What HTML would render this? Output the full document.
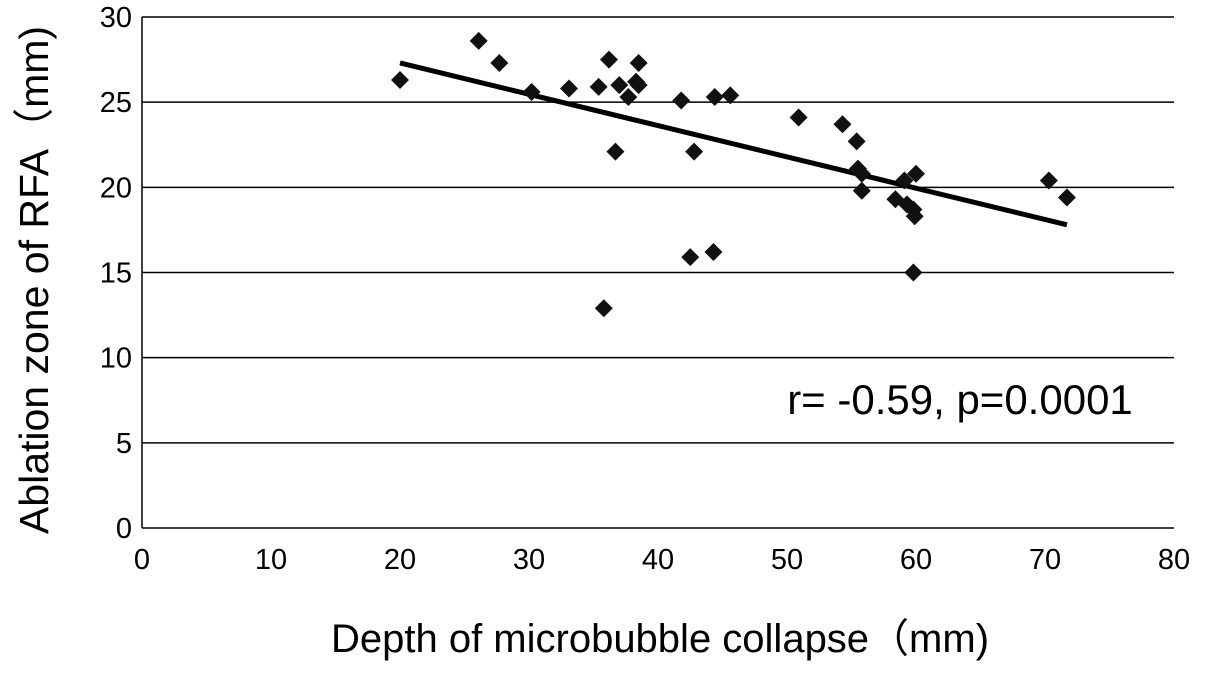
<!DOCTYPE html>
<html><head><meta charset="utf-8"><style>
html,body{margin:0;padding:0;background:#fff;}
svg{display:block;font-family:"Liberation Sans",Arial,sans-serif;}
</style></head><body>
<svg id="chart" width="1205" height="673">
<g id="grid"></g>
<g id="axes"></g>
<g id="ticks"></g>
<g id="trend"></g>
<g id="points"></g>
<text x="960" y="414" font-size="42" text-anchor="middle" fill="#000">r= -0.59, p=0.0001</text>
<text x="660" y="652" font-size="40" text-anchor="middle" fill="#000">Depth of microbubble collapse（mm)</text>
<text transform="translate(48,280) rotate(-90)" font-size="41" text-anchor="middle" fill="#000">Ablation zone of RFA（mm)</text>
</svg>
<script>
const xVals=[20.0,26.1,27.7,30.2,33.1,35.4,36.2,37.0,36.7,37.7,38.3,38.5,38.5,41.8,42.8,42.5,35.8,44.3,44.4,45.6,50.9,54.3,55.4,55.5,55.8,55.8,58.4,59.1,59.3,60.0,59.8,59.9,59.8,70.3,71.7];
const yVals=[26.3,28.6,27.3,25.6,25.8,25.9,27.5,26.0,22.1,25.3,26.2,27.3,26.0,25.1,22.1,15.9,12.9,16.2,25.3,25.4,24.1,23.7,22.7,21.1,20.8,19.8,19.3,20.4,19.0,20.8,18.7,18.3,15.0,20.4,19.4];
const trendX=[20,71.7];
const trendY=[27.3,17.8];
const xTicks=[0,10,20,30,40,50,60,70,80];
const yTicks=[0,5,10,15,20,25,30];
const X0=142,X1=1174,Y0=528,Y1=17;
const sx=v=>X0+(v-0)/80*(X1-X0);
const sy=v=>Y0-(v-0)/30*(Y0-Y1);
const NS="http://www.w3.org/2000/svg";
function mk(tag,parent,attrs){const e=document.createElementNS(NS,tag);for(const k in attrs)e.setAttribute(k,attrs[k]);document.getElementById(parent).appendChild(e);return e;}
yTicks.forEach(t=>{
 if(t>0){const l=mk('line','grid',{x1:X0,x2:X1,y1:sy(t),y2:sy(t),stroke:'#000','stroke-width':1.5});
 
 }
 const tx=mk('text','ticks',{x:X0-10,y:sy(t)+10,'font-size':29,'text-anchor':'end',fill:'#000'});tx.textContent=t;
 
 
});
xTicks.forEach(t=>{
 const tx=mk('text','ticks',{x:sx(t),y:Y0+41,'font-size':29,'text-anchor':'middle',fill:'#000'});tx.textContent=t;
 
 
});
const ya=mk('line','axes',{x1:X0,x2:X0,y1:Y1,y2:Y0,stroke:'#000','stroke-width':1.5});


const xa=mk('line','axes',{x1:X0,x2:X1,y1:Y0,y2:Y0,stroke:'#000','stroke-width':1.5});


const tl=mk('line','trend',{x1:sx(trendX[0]),y1:sy(trendY[0]),x2:sx(trendX[1]),y2:sy(trendY[1]),stroke:'#000','stroke-width':5});


xVals.forEach((xv,i)=>{
 const cx=sx(xv),cy=sy(yVals[i]),r=9;
 const p=mk('polygon','points',{points:`${cx},${cy-r} ${cx+r},${cy} ${cx},${cy+r} ${cx-r},${cy}`,fill:'#111'});
 
 
});
</script>
</body></html>
